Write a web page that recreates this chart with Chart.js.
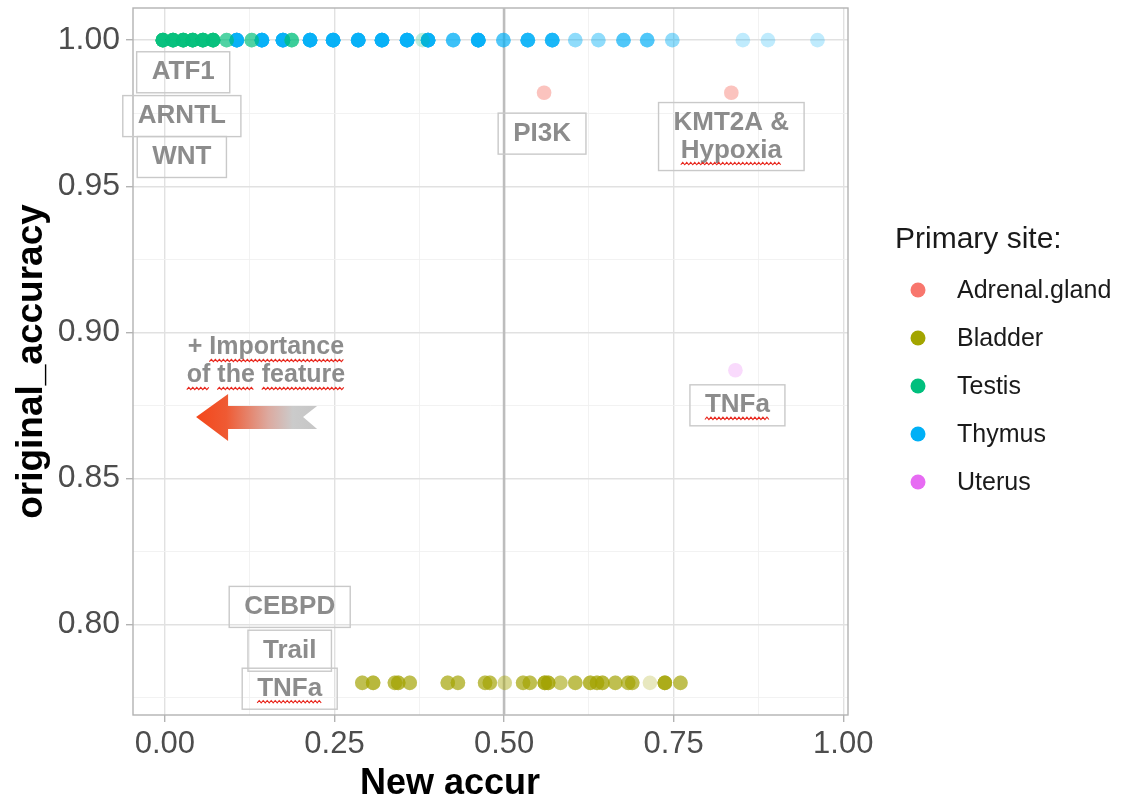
<html>
<head>
  <script src="https://cdn.jsdelivr.net/npm/chart.js@4.4.0/dist/chart.umd.min.js"></script>
</head>

<body style="padding: 0; margin: 0; background: #fff;">

<canvas id="chart" width="1123" height="803"></canvas>

<script>
  // primary sites, in legend order
  const sites = ['Adrenal.gland', 'Bladder', 'Testis', 'Thymus', 'Uterus']
  const siteColors = ['#F8766D', '#A3A500', '#00BF7D', '#00B0F6', '#E76BF3']

  // new accuracy of each gene set, and how many gene sets share that value
  const adrenalNew = [0.559, 0.835]
  const adrenalHits = [2, 2]
  const adrenalOriginal = 0.982

  const bladderNew = [0.291, 0.307, 0.339, 0.344, 0.361, 0.417, 0.432, 0.472, 0.479, 0.501, 0.528, 0.538, 0.560,
                      0.565, 0.583, 0.605, 0.627, 0.637, 0.645, 0.664, 0.683, 0.689, 0.715, 0.737, 0.760]
  const bladderHits = [4, 5, 4, 5, 4, 4, 4, 4, 4, 2, 4, 4, 7, 6, 3, 4, 5, 5, 5, 4, 4, 4, 1, 8, 4]
  const bladderOriginal = 0.78

  const testisNew = [-0.003, 0.012, 0.027, 0.041, 0.056, 0.071, 0.091, 0.128, 0.187, 0.380]
  const testisHits = [12, 12, 12, 12, 12, 12, 4, 4, 5, 1]
  const testisOriginal = 1.0

  const thymusNew = [0.106, 0.143, 0.174, 0.214, 0.248, 0.285, 0.320, 0.357, 0.388, 0.425, 0.462, 0.499, 0.535,
                     0.571, 0.605, 0.639, 0.676, 0.711, 0.748, 0.852, 0.889, 0.962]
  const thymusHits = [12, 12, 12, 12, 12, 12, 12, 12, 12, 5, 12, 4, 8, 8, 2, 2, 4, 4, 2, 1, 1, 1]
  const thymusOriginal = 1.0

  const uterusNew = [0.841]
  const uterusHits = [1]
  const uterusOriginal = 0.887

  const cutoff = 0.5

  // axis breaks
  const xBreaks = [0, 0.25, 0.5, 0.75, 1]
  const xMinor = [0.125, 0.375, 0.625, 0.875]
  const yBreaks = [0.8, 0.85, 0.9, 0.95, 1]
  const yMinor = [0.775, 0.825, 0.875, 0.925, 0.975]
  const xRange = [-0.047, 1.007]
  const yRange = [0.769, 1.011]

  // gene set call-outs
  const labelText = [['ATF1'], ['ARNTL'], ['WNT'], ['PI3K'], ['KMT2A &', 'Hypoxia'], ['TNFa'], ['CEBPD'], ['Trail'], ['TNFa']]
  const labelNew = [0.027, 0.025, 0.025, 0.556, 0.835, 0.844, 0.184, 0.184, 0.184]
  const labelOriginal = [0.989, 0.974, 0.960, 0.968, 0.967, 0.875, 0.806, 0.791, 0.778]
  const noteText = ['+ Importance', 'of the feature']
  const notePos = [0.149, 0.890]
  const arrowTip = [0.046, 0.871]
  const flaggedWords = ['Hypoxia', 'TNFa', 'Importance', 'of', 'the', 'feature']

  const FONT = '"Liberation Sans", Arial, sans-serif'
  Chart.defaults.font.family = FONT

  const pointAlpha = 0.25
  const rgba = (hex, a) => `rgba(${parseInt(hex.slice(1, 3), 16)},${parseInt(hex.slice(3, 5), 16)},${parseInt(hex.slice(5, 7), 16)},${a})`

  // every gene set is its own point, so shared values stack up darker
  const spread = (xs, hits, y) => xs.flatMap((x, i) => Array.from({length: hits[i]}, () => ({x, y})))

  const siteSet = (site, xs, hits, y, order) => {
    const color = siteColors[sites.indexOf(site)]
    return {
      label: site,
      data: spread(xs, hits, y),
      backgroundColor: rgba(color, pointAlpha),
      borderWidth: 0,
      pointRadius: 7.3,
      pointHoverRadius: 7.3,
      order,
    }
  }

  const isBreak = (breaks, v) => breaks.some(b => Math.abs(b - v) < 1e-9)

  const gridStyle = breaks => ({
    color: c => isBreak(breaks, c.tick.value) ? '#e1e1e1' : '#f0f0f0',
    lineWidth: c => isBreak(breaks, c.tick.value) ? 1.4 : 0.9,
    tickColor: c => isBreak(breaks, c.tick.value) ? '#b3b3b3' : 'rgba(0,0,0,0)',
    tickLength: 7,
    tickWidth: 1.4,
  })

  // keep the panel flush with the layout padding
  const noEdgePadding = s => {
    s.paddingTop = 0
    s.paddingBottom = 0
    s.paddingLeft = 0
    s.paddingRight = 0
  }

  const squiggle = (ctx, x0, x1, y) => {
    ctx.save()
    ctx.beginPath()
    let up = false
    for (let x = x0; x <= x1; x += 2) {
      ctx.lineTo(x, y + (up ? -1.2 : 1.2))
      up = !up
    }
    ctx.strokeStyle = '#e8261c'
    ctx.lineWidth = 1.1
    ctx.stroke()
    ctx.restore()
  }

  // text lines centred on (cx, cy), with red wavy marks under flagged words
  const drawLines = (ctx, lines, cx, cy, step) => {
    lines.forEach((line, i) => {
      const ly = cy + (i - (lines.length - 1) / 2) * step
      ctx.fillText(line, cx, ly)
      const lineStart = cx - ctx.measureText(line).width / 2
      let pos = 0
      line.split(' ').forEach(word => {
        const start = lineStart + ctx.measureText(line.slice(0, pos)).width
        const w = ctx.measureText(word).width
        if (flaggedWords.includes(word)) squiggle(ctx, start, start + w, ly + 13)
        pos += word.length + 1
      })
    })
  }

  const panel = {
    id: 'panel',
    beforeDatasetsDraw(chart) {
      const {ctx, chartArea: a} = chart
      ctx.save()
      ctx.strokeStyle = '#b3b3b3'
      ctx.lineWidth = 1.4
      ctx.strokeRect(a.left, a.top, a.right - a.left, a.bottom - a.top)
      ctx.restore()
    },
    afterDatasetsDraw(chart) {
      const {ctx, chartArea: a} = chart
      const x = chart.scales.x, y = chart.scales.y
      ctx.save()

      // call-out boxes
      ctx.font = `bold 26px ${FONT}`
      ctx.textAlign = 'center'
      ctx.textBaseline = 'middle'
      labelText.forEach((lines, i) => {
        const cx = x.getPixelForValue(labelNew[i])
        const cy = y.getPixelForValue(labelOriginal[i])
        const w = Math.max(...lines.map(l => ctx.measureText(l).width)) + 30
        const h = 14 + 27 * lines.length
        ctx.strokeStyle = '#c9c9c9'
        ctx.lineWidth = 1.4
        ctx.strokeRect(cx - w / 2, cy - h / 2, w, h)
        ctx.fillStyle = '#8c8c8c'
        drawLines(ctx, lines, cx, cy, 28)
      })

      // importance note and arrow
      ctx.font = `bold 25px ${FONT}`
      ctx.fillStyle = '#8c8c8c'
      drawLines(ctx, noteText, x.getPixelForValue(notePos[0]), y.getPixelForValue(notePos[1]), 28)

      const tx = x.getPixelForValue(arrowTip[0]), ty = y.getPixelForValue(arrowTip[1])
      const grad = ctx.createLinearGradient(tx, 0, tx + 121, 0)
      grad.addColorStop(0, '#f4461a')
      grad.addColorStop(0.25, '#ef5a33')
      grad.addColorStop(0.6, '#dcaaa0')
      grad.addColorStop(0.8, '#cbcbcb')
      grad.addColorStop(1, '#c6c6c6')
      const outline = [[0, 0], [32, -23], [32, -11], [121, -11], [107, 0], [121, 12], [32, 12], [32, 24]]
      ctx.beginPath()
      outline.forEach(([dx, dy]) => ctx.lineTo(tx + dx, ty + dy))
      ctx.closePath()
      ctx.fillStyle = grad
      ctx.fill()

      // x axis title
      ctx.font = `bold 36px ${FONT}`
      ctx.fillStyle = '#000'
      ctx.fillText('New accur', a.left + 317, 784)

      // legend
      const lx = a.right + 47
      ctx.textAlign = 'left'
      ctx.font = `30px ${FONT}`
      ctx.fillStyle = '#1a1a1a'
      ctx.fillText('Primary site:', lx, 240)
      ctx.font = `25px ${FONT}`
      sites.forEach((site, i) => {
        const ly = 290 + 48 * i
        ctx.beginPath()
        ctx.arc(lx + 23, ly, 7.5, 0, Math.PI * 2)
        ctx.fillStyle = siteColors[i]
        ctx.fill()
        ctx.fillStyle = '#1a1a1a'
        ctx.fillText(site, lx + 62, ly + 1)
      })
      ctx.restore()
    },
  }

  new Chart(document.getElementById('chart').getContext('2d'), {
    type: 'scatter',
    data: {
      datasets: [
        {
          type: 'line',
          label: 'cutoff',
          data: [{x: cutoff, y: yRange[0]}, {x: cutoff, y: yRange[1]}],
          borderColor: '#bdbdbd',
          borderWidth: 2.6,
          pointRadius: 0,
          showLine: true,
          order: 10,
        },
        siteSet('Thymus', thymusNew, thymusHits, thymusOriginal, 3),
        siteSet('Testis', testisNew, testisHits, testisOriginal, 2),
        siteSet('Bladder', bladderNew, bladderHits, bladderOriginal, 1),
        siteSet('Adrenal.gland', adrenalNew, adrenalHits, adrenalOriginal, 1),
        siteSet('Uterus', uterusNew, uterusHits, uterusOriginal, 1),
      ],
    },
    options: {
      animation: false,
      responsive: false,
      devicePixelRatio: 1,
      layout: {padding: {top: 8, right: 275, left: 0, bottom: 0}},
      plugins: {legend: {display: false}, tooltip: {enabled: false}},
      scales: {
        x: {
          type: 'linear',
          min: xRange[0],
          max: xRange[1],
          afterBuildTicks: s => { s.ticks = [...xBreaks, ...xMinor].sort((a, b) => a - b).map(value => ({value})) },
          afterFit: s => { s.height = 88; noEdgePadding(s) },
          ticks: {
            callback: v => isBreak(xBreaks, v) ? v.toFixed(2) : '',
            color: '#4d4d4d',
            font: {size: 31},
            padding: 4,
            maxRotation: 0,
            autoSkip: false,
          },
          grid: gridStyle(xBreaks),
          border: {display: false},
        },
        y: {
          type: 'linear',
          min: yRange[0],
          max: yRange[1],
          afterBuildTicks: s => { s.ticks = [...yBreaks, ...yMinor].sort((a, b) => a - b).map(value => ({value})) },
          afterFit: s => { s.width = 133; noEdgePadding(s) },
          ticks: {
            callback: v => isBreak(yBreaks, v) ? v.toFixed(2) : '',
            color: '#4d4d4d',
            font: {size: 32},
            padding: 6,
            autoSkip: false,
          },
          grid: gridStyle(yBreaks),
          border: {display: false},
          title: {
            display: true,
            text: 'original_accuracy',
            color: '#000',
            font: {size: 37, weight: 'bold', lineHeight: 1.1},
            padding: {top: 11, bottom: 0},
          },
        },
      },
    },
    plugins: [panel],
  })
</script>
</body>
</html>
